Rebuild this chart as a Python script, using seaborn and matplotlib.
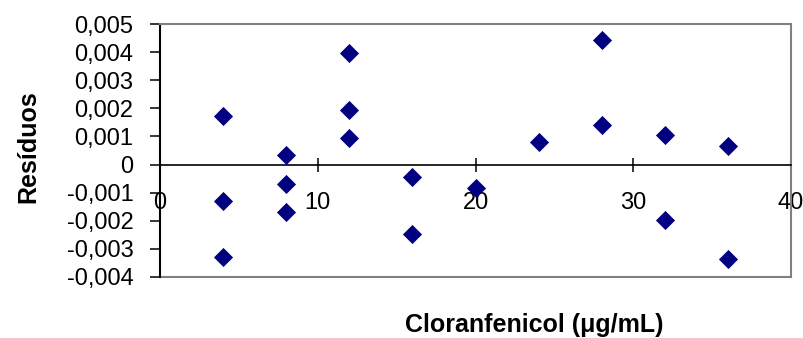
import matplotlib
matplotlib.use("Agg")
import matplotlib.pyplot as plt
import seaborn as sns
import pandas as pd
from matplotlib.ticker import FuncFormatter

# data
concentracao = [4, 4, 4, 8, 8, 8, 12, 12, 12, 16, 16, 20, 24, 28, 28, 32, 32, 36, 36]
residuos = [0.00172, -0.0013, -0.0033,
            0.00033, -0.0007, -0.00169,
            0.00397, 0.00195, 0.00095,
            -0.00044, -0.00246,
            -0.00083,
            0.00079,
            0.00444, 0.00142,
            0.00104, -0.00199,
            0.00065, -0.00337]
x_ticks = [0, 10, 20, 30, 40]
y_ticks = [-0.004, -0.003, -0.002, -0.001, 0, 0.001, 0.002, 0.003, 0.004, 0.005]

df = pd.DataFrame({"x": concentracao, "y": residuos})

sns.set_style("white")
plt.rcParams["font.family"] = ["Liberation Sans", "DejaVu Sans"]
plt.rcParams["text.color"] = "black"
plt.rcParams["axes.labelcolor"] = "black"
plt.rcParams["xtick.color"] = "black"
plt.rcParams["ytick.color"] = "black"

fig = plt.figure(figsize=(8.04, 3.38), dpi=100)
ax = fig.add_axes([160 / 804, 1 - 277 / 338, (791 - 160) / 804, (277 - 24) / 338])

sns.scatterplot(data=df, x="x", y="y", marker="D", s=95, color="#000080",
                edgecolor="#000080", linewidth=0, ax=ax, zorder=3)

ax.set_xlim(0, 40)
ax.set_ylim(-0.004, 0.005)
ax.set_xticks(x_ticks)
ax.set_yticks(y_ticks)

def yfmt(v, pos):
    if abs(v) < 1e-12:
        return "0"
    return f"{v:.3f}".replace(".", ",")

ax.yaxis.set_major_formatter(FuncFormatter(yfmt))
ax.xaxis.set_major_formatter(FuncFormatter(lambda v, p: f"{int(round(v))}"))

# spines
ax.spines["bottom"].set_position(("data", 0))
ax.spines["bottom"].set_color("#000000")
ax.spines["bottom"].set_linewidth(1.2)
ax.spines["left"].set_color("#000000")
ax.spines["left"].set_linewidth(1.5)
for s in ("top", "right"):
    ax.spines[s].set_color("#808080")
    ax.spines[s].set_linewidth(1.5)
ax.plot([0, 1], [0, 0], transform=ax.transAxes, color="#808080", lw=1.5,
        clip_on=False, zorder=2)

ax.tick_params(axis="x", direction="inout", length=10, width=1.1, pad=15,
               labelsize=17, colors="#000000", bottom=True)
ax.tick_params(axis="y", direction="out", length=7, width=1.1, pad=12,
               labelsize=17, colors="#000000", left=True)

ax.set_xlabel("")
ax.set_ylabel("")
ax.grid(False)

fig.text(28 / 804, 1 - 147 / 338, "Resíduos", rotation=90, fontsize=18,
         fontweight="bold", ha="center", va="center", color="black")
fig.text(534 / 804, 1 - 325 / 338, "Cloranfenicol (μg/mL)", fontsize=18,
         fontweight="bold", ha="center", va="center", color="black")

fig.savefig("out.png", dpi=100)
